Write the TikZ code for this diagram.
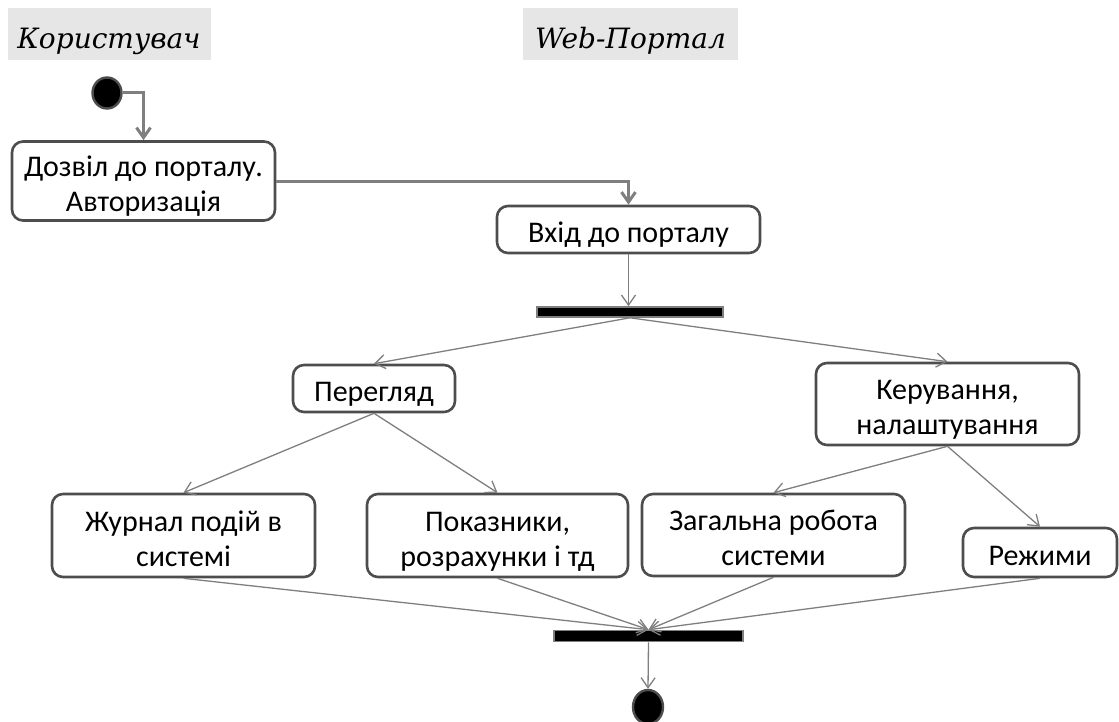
\documentclass[tikz,border=0pt]{standalone}
\usepackage{fontspec}
\setmainfont{Carlito}
\newfontfamily\titlefont{DejaVu Serif}
\usetikzlibrary{arrows.meta,shapes.geometric}
\definecolor{boxline}{HTML}{4D4D4D}
\definecolor{conn}{HTML}{7F7F7F}
\definecolor{titlebg}{HTML}{E6E6E6}
\newcommand{\boxtext}[1]{\raisebox{-6pt}[\height][\depth]{\begin{tabular}{@{}c@{}}#1\end{tabular}}}
\newcommand{\titletext}[1]{\raisebox{-7pt}[\height][\depth]{#1}}
\tikzset{
  actbox/.style={draw=boxline, line width=2.6pt, rounded corners=11pt, fill=white,
    inner sep=0pt, font=\fontsize{30}{35}\selectfont},
  titlebox/.style={fill=titlebg, inner sep=0pt, font=\titlefont\itshape\fontsize{28}{32}\selectfont},
  thickconn/.style={draw=conn, line width=3pt, -{Straight Barb[length=10pt,width=14pt,line width=3pt]}},
  thinconn/.style={draw=conn, line width=1.3pt, -{Straight Barb[length=10pt,width=14pt,line width=1.3pt]}},
  syncbar/.style={draw=conn, fill=black, line width=1.6pt, inner sep=0pt},
  endpoint/.style={draw=boxline, fill=black, line width=2.4pt, ellipse, inner sep=0pt}
}
\begin{document}
\begin{tikzpicture}[x=1pt,y=-1pt]
\useasboundingbox (0,0) rectangle (1119,722);
% titles
\node[titlebox, minimum width=203pt, minimum height=52pt] (t1) at (109,34) {\titletext{Користувач}};
\node[titlebox, minimum width=215pt, minimum height=52pt] (t2) at (630.5,34) {\titletext{Web-Портал}};
% start
\node[endpoint, minimum width=29pt, minimum height=31pt] (start) at (107,93) {};
% boxes
\node[actbox, minimum width=263pt, minimum height=79pt] (b1) at (143.5,181) {\boxtext{Дозвіл до порталу.\\Авторизація}};
\node[actbox, minimum width=263pt, minimum height=47pt] (b2) at (628.5,229.5) {\boxtext{Вхід до порталу}};
\node[syncbar, minimum width=186pt, minimum height=10pt] (bar1) at (630,312) {};
\node[actbox, minimum width=162pt, minimum height=47pt] (per) at (374,388.5) {\boxtext{Перегляд}};
\node[actbox, minimum width=263pt, minimum height=82pt] (ker) at (947.5,404) {\boxtext{Керування,\\налаштування}};
\node[actbox, minimum width=263pt, minimum height=83pt] (zh) at (183.5,535.5) {\boxtext{Журнал подій в\\системі}};
\node[actbox, minimum width=261pt, minimum height=83pt] (pok) at (497.5,535.5) {\boxtext{Показники,\\розрахунки і тд}};
\node[actbox, minimum width=263pt, minimum height=82pt] (zag) at (773.5,535) {\boxtext{Загальна робота\\системи}};
\node[actbox, minimum width=154pt, minimum height=49pt] (rez) at (1040,552.5) {\boxtext{Режими}};
\node[syncbar, minimum width=189pt, minimum height=11pt] (bar2) at (648.5,636) {};
\node[endpoint, minimum width=30pt, minimum height=34pt] (end) at (648,707) {};
% connectors
\draw[thickconn] (start.east) -| (b1.north);
\draw[thickconn] (b1.east |- 0,182) -| (b2.north);
\draw[thinconn] (b2.south) -- (b2.south |- bar1.north);
\draw[thinconn] (bar1.south) -- (per.north);
\draw[thinconn] (bar1.south) -- (ker.north);
\draw[thinconn] (per.south) -- (zh.north);
\draw[thinconn] (per.south) -- (pok.north);
\draw[thinconn] (ker.south) -- (zag.north);
\draw[thinconn] (ker.south) -- (rez.north);
\draw[thinconn] (zh.south) -- (bar2.north);
\draw[thinconn] (pok.south) -- (bar2.north);
\draw[thinconn] (zag.south) -- (bar2.north);
\draw[thinconn] (rez.south) -- (bar2.north);
\draw[thinconn] (bar2.south) -- (end.north);
\end{tikzpicture}
\end{document}
